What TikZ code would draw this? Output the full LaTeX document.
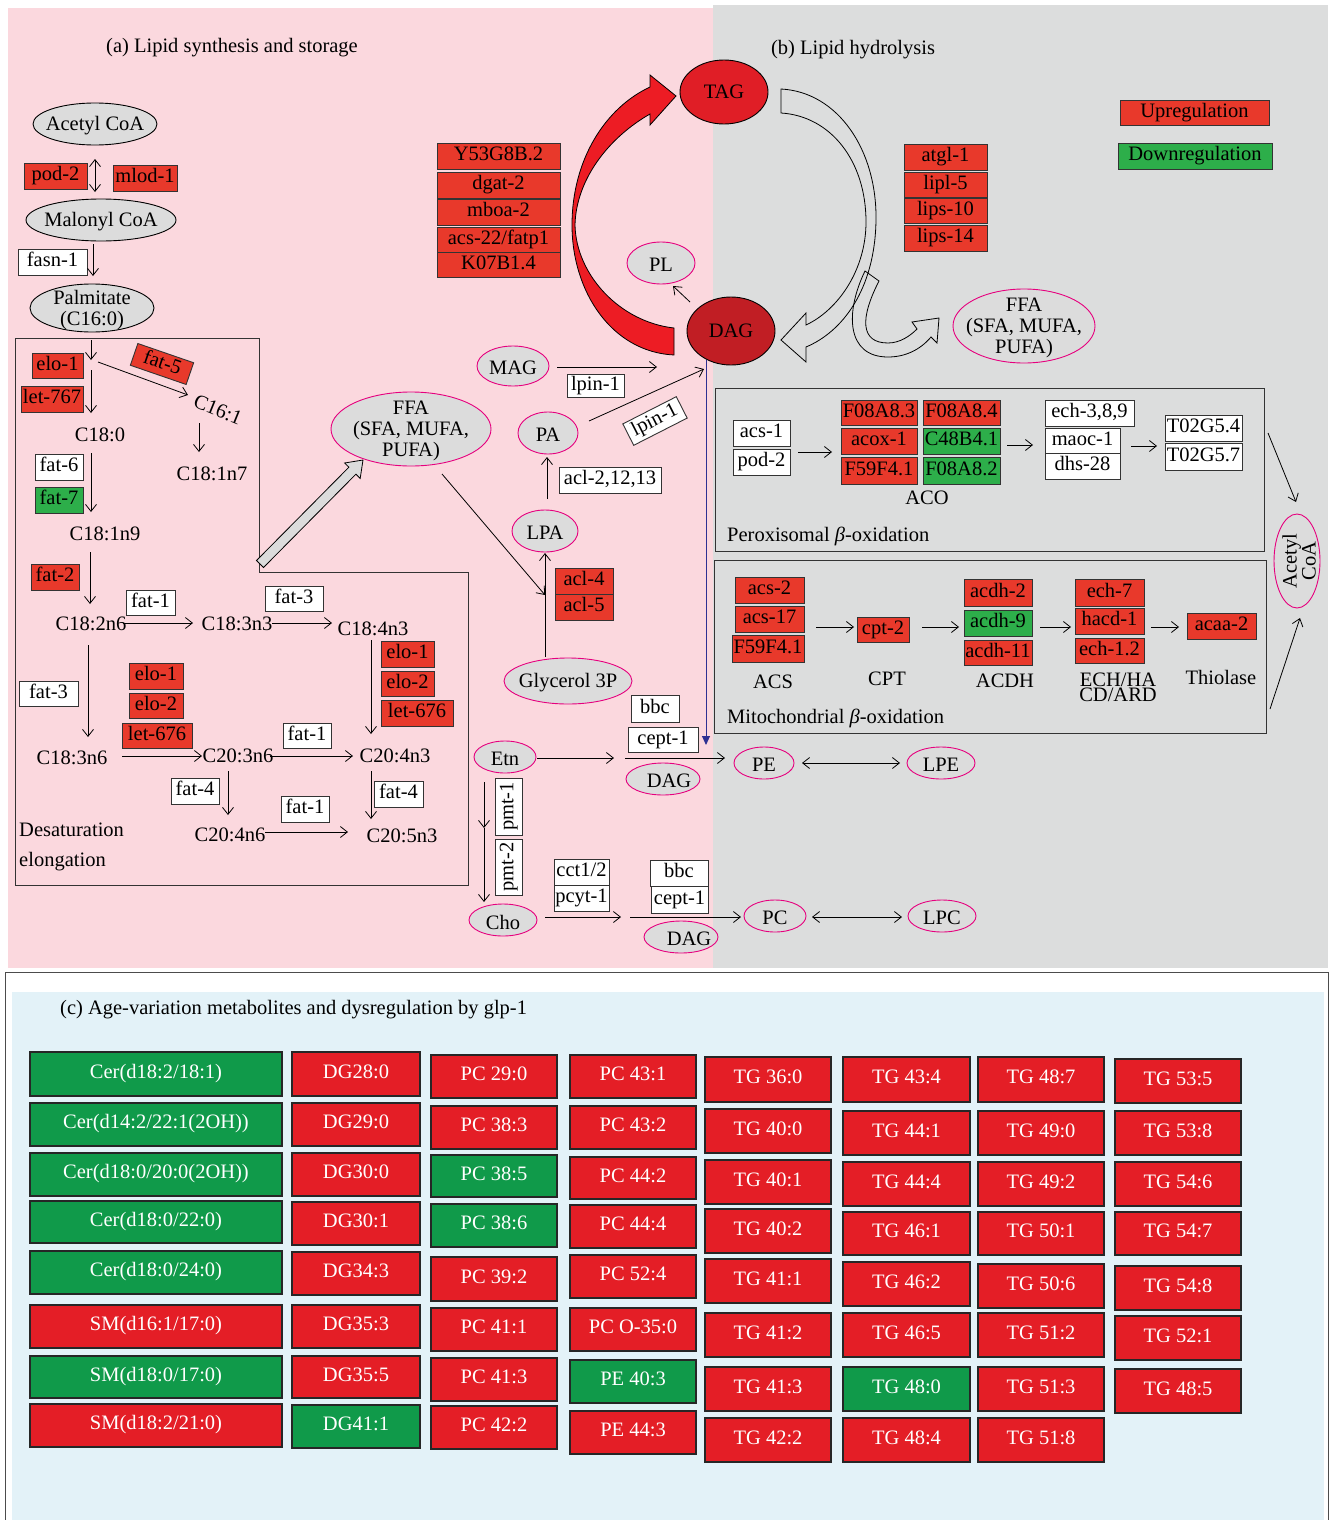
\documentclass[tikz,border=0pt]{standalone}
\usepackage{fontspec}
\setmainfont{Liberation Serif}
\usetikzlibrary{arrows.meta,shapes.geometric}
\definecolor{pinkbg}{RGB}{251,216,222}
\definecolor{graybg}{RGB}{220,221,221}
\definecolor{upred}{RGB}{232,57,43}
\definecolor{dngreen}{RGB}{45,174,74}
\definecolor{ellgray}{RGB}{220,220,220}
\definecolor{mag}{RGB}{230,0,126}
\definecolor{tabred}{RGB}{228,30,38}
\definecolor{tabgreen}{RGB}{16,154,74}
\definecolor{bluebg}{RGB}{227,242,248}
\definecolor{tagred}{RGB}{224,30,38}
\definecolor{dagred}{RGB}{193,30,36}
\definecolor{arrred}{RGB}{237,28,36}
\definecolor{lineblue}{RGB}{46,49,146}
\newcommand\labfont{\fontsize{20.5}{21}\selectfont}
\newcommand\tabfont{\fontsize{20.5}{22}\selectfont}
\newcommand\bx[7]{\node[#6,minimum width={(#4-#2)*1pt},minimum height={(#5-#3)*1pt}] (#1) at ({(#2+#4)/2},{(#3+#5)/2}) {#7};}
\newcommand\el[7]{\node[#6,minimum width={2*#4*1pt},minimum height={2*#5*1pt},label={[elab]center:{#7}}] (#1) at (#2,#3) {};}
\begin{document}
\begin{tikzpicture}[x=1pt,y=-1pt,
 gbox/.style={draw=black!80,line width=0.9pt,inner sep=0pt,outer sep=0pt,font=\labfont,text height=13.5pt,text depth=4pt},
 rbox/.style={gbox,fill=upred},
 wbox/.style={gbox,fill=white},
 gnbox/.style={gbox,fill=dngreen},
 ell/.style={ellipse,draw=black,fill=ellgray,line width=0.9pt,inner sep=0pt,outer sep=0pt},
 mell/.style={ellipse,draw=mag,fill=ellgray,line width=0.9pt,inner sep=0pt,outer sep=0pt},
 elab/.style={font=\labfont,align=center,inner sep=0pt,yshift=-2pt},
 txt/.style={font=\labfont,inner sep=0pt},
 arr/.style={line width=0.8pt,-{Straight Barb[length=7pt,width=11pt]}},
 darr/.style={line width=0.8pt,{Straight Barb[length=7pt,width=11pt]}-{Straight Barb[length=7pt,width=11pt]}},
 tred/.style={draw=black!85,line width=1.3pt,fill=tabred,text=white,font=\tabfont,inner sep=0pt,text height=12pt,text depth=4pt},
 tgrn/.style={tred,fill=tabgreen},
 panelbox/.style={draw=black!80,line width=1pt}]
\useasboundingbox (0,0) rectangle (1329,1520);
% backgrounds
\fill[white] (0,0) rectangle (1329,1520);
\fill[pinkbg] (8,8) rectangle (713,968);
\fill[graybg] (713,5) rectangle (1328,968);
\draw[black!70,line width=1pt,fill=white] (5,972) rectangle (1328,1525);
\fill[bluebg] (12,992) rectangle (1324,1520);
% titles
\node[txt] (ta) at (232,48) {(a) Lipid synthesis and storage};
\node[txt] (tb) at (853,50) {(b) Lipid hydrolysis};
\node[txt,anchor=west] (tc) at (60,1010) {(c) Age-variation metabolites and dysregulation by glp-1};
% legend
\bx{lup}{1120}{100}{1269}{125}{rbox}{Upregulation}
\bx{ldn}{1118}{143}{1272}{169}{gnbox}{Downregulation}
% ---------- left column
\el{acoa}{95}{124}{62}{21}{ell}{Acetyl CoA}
\bx{pod2a}{24}{163}{87}{189}{rbox}{pod-2}
\bx{mlod}{113}{165}{177}{191}{rbox}{mlod-1}
\el{mcoa}{101}{220}{75}{21}{ell}{Malonyl CoA}
\bx{fasn}{18}{249}{87}{275}{wbox}{fasn-1}
\el{palm}{92}{308}{62}{24}{ell}{Palmitate\\(C16:0)}
\draw[darr] ([shift={(0,35)}]acoa.center) -- ([shift={(-6,-28)}]mcoa.center);
\draw[arr] ([shift={(-8,24)}]mcoa.center) -- ([shift={(1,-32)}]palm.center);
% desaturation box
\draw[panelbox] (15,338) -- (259,338) -- (259,572) -- (468,572) -- (468,885) -- (15,885) -- cycle;
\node[txt] (c180) at (100,435) {C18:0};
\node[txt,rotate=-22] (c161) at (218,410) {C16:1};
\node[txt] (c181n7) at (212,474) {C18:1n7};
\node[txt] (c181n9) at (105,534) {C18:1n9};
\node[txt] (c182n6) at (91,624) {C18:2n6};
\node[txt] (c183n3) at (237,624) {C18:3n3};
\node[txt] (c184n3) at (373,629) {C18:4n3};
\node[txt] (c183n6) at (72,758) {C18:3n6};
\node[txt] (c203n6) at (238,756) {C20:3n6};
\node[txt] (c204n3) at (395,756) {C20:4n3};
\node[txt] (c204n6) at (230,835) {C20:4n6};
\node[txt] (c205n3) at (402,836) {C20:5n3};
\node[txt,anchor=west] (desat) at (19,830) {Desaturation};
\node[txt,anchor=west] (elong) at (19,862) {elongation};
\bx{elo1a}{32}{353}{83}{378}{rbox}{elo-1}
\bx{let767}{21}{386}{83}{412}{rbox}{let-767}
\node[rbox,rotate=-19,minimum width=59pt,minimum height=23pt] (fat5) at (162,364) {fat-5};
\bx{fat6}{35}{454}{83}{480}{wbox}{fat-6}
\bx{fat7}{35}{487}{83}{513}{gnbox}{fat-7}
\bx{fat2}{31}{564}{79}{590}{rbox}{fat-2}
\bx{fat1a}{126}{590}{175}{615}{wbox}{fat-1}
\bx{fat3a}{265}{586}{323}{611}{wbox}{fat-3}
\bx{elo1b}{381}{641}{434}{667}{rbox}{elo-1}
\bx{elo2b}{381}{671}{434}{696}{rbox}{elo-2}
\bx{let676b}{381}{700}{453}{726}{rbox}{let-676}
\bx{fat3b}{19}{681}{78}{706}{wbox}{fat-3}
\bx{elo1c}{129}{663}{183}{689}{rbox}{elo-1}
\bx{elo2c}{129}{693}{183}{718}{rbox}{elo-2}
\bx{let676c}{122}{723}{192}{748}{rbox}{let-676}
\bx{fat1b}{283}{723}{331}{748}{wbox}{fat-1}
\bx{fat4a}{171}{778}{219}{804}{wbox}{fat-4}
\bx{fat1c}{281}{796}{329}{822}{wbox}{fat-1}
\bx{fat4b}{374}{781}{423}{807}{wbox}{fat-4}
\draw[arr] ([shift={(-1,32)}]palm.center) -- ([shift={(-1,52)}]palm.center);
\draw[arr] ([shift={(-9,-65)}]c180.center) -- ([shift={(-9,-22)}]c180.center);
\draw[arr] ([shift={(6,54)}]palm.center) -- ([shift={(-30,-15)}]c161.center);
\draw[arr] ([shift={(-19,13)}]c161.center) -- ([shift={(-13,-22)}]c181n7.center);
\draw[arr] ([shift={(-9,18)}]c180.center) -- ([shift={(-14,-22)}]c181n9.center);
\draw[arr] ([shift={(-15,18)}]c181n9.center) -- ([shift={(-1,-20)}]c182n6.center);
\draw[arr] ([shift={(32,-1)}]c182n6.center) -- ([shift={(-44,-1)}]c183n3.center);
\draw[arr] ([shift={(35,-1)}]c183n3.center) -- ([shift={(-41,-6)}]c184n3.center);
\draw[arr] ([shift={(-2,11)}]c184n3.center) -- ([shift={(-24,-22)}]c204n3.center);
\draw[arr] ([shift={(-3,21)}]c182n6.center) -- ([shift={(16,-21)}]c183n6.center);
\draw[arr] ([shift={(50,-2)}]c183n6.center) -- ([shift={(-36,0)}]c203n6.center);
\draw[arr] ([shift={(32,0)}]c203n6.center) -- ([shift={(-42,0)}]c204n3.center);
\draw[arr] ([shift={(-10,15)}]c203n6.center) -- ([shift={(-2,-20)}]c204n6.center);
\draw[arr] ([shift={(35,-3)}]c204n6.center) -- ([shift={(-54,-4)}]c205n3.center);
\draw[arr] ([shift={(-24,15)}]c204n3.center) -- ([shift={(-31,-17)}]c205n3.center);
% gray hollow arrow to FFA
\draw[line width=0.8pt,fill=ellgray] (256.5,560.5) -- (348.9,467.2) -- (344.6,463) -- (363,460) -- (360.2,478.4) -- (355.9,474.2) -- (263.5,567.5) -- cycle;
% ---------- middle
\el{ffa1}{411}{429}{80}{37}{mell}{FFA\\(SFA, MUFA,\\PUFA)}
\bx{y53}{437}{143}{560}{169}{rbox}{Y53G8B.2}
\bx{dgat}{437}{172}{560}{198}{rbox}{dgat-2}
\bx{mboa}{437}{199}{560}{225}{rbox}{mboa-2}
\bx{acs22}{437}{227}{560}{252}{rbox}{acs-22/fatp1}
\bx{k07}{437}{252}{560}{277}{rbox}{K07B1.4}
% red curved arrow DAG -> TAG
\draw[line width=0.8pt,fill=arrred] (674,355) .. controls (612,352) and (572,292) .. (572,225) .. controls (572,160) and (605,108) .. (650,87) -- (650,75) -- (676,96) -- (650,125) -- (650,114) .. controls (608,138) and (576,180) .. (575,225) .. controls (576,275) and (620,322) .. (674,328) -- cycle;
% hollow arrow TAG -> DAG
\draw[line width=0.8pt,fill=graybg] (781,89) .. controls (838,92) and (877,150) .. (876,220) .. controls (875,290) and (842,332) .. (806,347) -- (806,362) -- (781,340) -- (806,313) -- (806,325) .. controls (838,310) and (866,270) .. (866,222) .. controls (866,160) and (830,116) .. (781,113) -- cycle;
\draw[line width=0.8pt] (865,271) -- (879,281) .. controls (860,318) and (860,343) .. (888,343) .. controls (900,343) and (910,336) .. (917,329) -- (912,322) -- (939,318) -- (937,343) -- (931,337) .. controls (920,350) and (905,357) .. (888,357) .. controls (846,357) and (845,312) .. (865,271) -- cycle;
\node[ellipse,draw=black,line width=0.9pt,fill=tagred,minimum width=88pt,minimum height=64pt,inner sep=0pt,font=\labfont] (tag) at (724,92) {TAG};
\node[ellipse,draw=black,line width=0.9pt,fill=dagred,minimum width=88pt,minimum height=68pt,inner sep=0pt,font=\labfont] (dag) at (731,331) {DAG};
\el{pl}{661}{263}{34}{21}{mell}{PL}
\draw[arr] ([shift={(-41,-29)}]dag.center) -- ([shift={(12,23)}]pl.center);
\el{mag}{513}{366}{36}{20}{mell}{MAG}
\draw[arr] ([shift={(44,1)}]mag.center) -- ([shift={(-74,36)}]dag.center);
\bx{lpin1a}{567}{374}{624}{397}{wbox}{lpin-1}
\el{pa}{548}{433}{30}{21}{mell}{PA}
\draw[arr] ([shift={(41,-12)}]pa.center) -- ([shift={(-27,38)}]dag.center);
\node[wbox,rotate=27,minimum width=60pt,minimum height=24pt] (lpin1b) at (655,421) {lpin-1};
\bx{acl2}{559}{467}{661}{493}{wbox}{acl-2,12,13}
\el{lpa}{545}{531}{33}{21}{mell}{LPA}
\draw[arr] ([shift={(2,-32)}]lpa.center) -- ([shift={(-1,24)}]pa.center);
\bx{acl4}{555}{568}{613}{594}{rbox}{acl-4}
\bx{acl5}{555}{594}{613}{620}{rbox}{acl-5}
\el{gly}{568}{681}{64}{23}{mell}{Glycerol 3P}
\draw[arr] ([shift={(-23,-24)}]gly.center) -- ([shift={(0,22)}]lpa.center);
\draw[arr] ([shift={(31,45)}]ffa1.center) -- ([shift={(-23,-86)}]gly.center);
% ---------- bottom PE / PC
\el{etn}{505}{757}{31}{16}{mell}{Etn}
\bx{bbc1}{631}{695}{679}{722}{wbox}{bbc}
\bx{cept1a}{628}{727}{698}{752}{wbox}{cept-1}
\node[mell,minimum width=74pt,minimum height=32pt,label={[elab,xshift=6pt]center:DAG}] (dag2) at (663,779) {};
\el{pe}{764}{763}{30}{16}{mell}{PE}
\el{lpe}{941}{763}{34}{16}{mell}{LPE}
\draw[arr] ([shift={(32,1)}]etn.center) -- ([shift={(-49,18.5)}]cept1a.center);
\draw[arr] ([shift={(-38,18.5)}]cept1a.center) -- ([shift={(-39,-5)}]pe.center);
\draw[darr] ([shift={(38,0)}]pe.center) -- ([shift={(-41,0)}]lpe.center);
\node[wbox,rotate=90,minimum width=57pt,minimum height=27pt] (pmt1) at (508.5,806.5) {pmt-1};
\node[wbox,rotate=90,minimum width=56pt,minimum height=27pt] (pmt2) at (508.5,867) {pmt-2};
\el{cho}{503}{920}{34}{16}{mell}{Cho}
\draw[arr] ([shift={(-21,25)}]etn.center) -- ([shift={(-24.5,21.5)}]pmt1.center);
\draw[arr] ([shift={(-24.5,21.5)}]pmt1.center) -- ([shift={(-19,-18)}]cho.center);
\bx{cct}{554}{859}{609}{885}{wbox}{cct1/2}
\bx{pcyt}{554}{885}{609}{911}{wbox}{pcyt-1}
\bx{bbc2}{650}{860}{708}{886}{wbox}{bbc}
\bx{cept1b}{651}{886}{708}{913}{wbox}{cept-1}
\node[mell,minimum width=74pt,minimum height=32pt,label={[elab,xshift=8pt]center:DAG}] (dag3) at (681,937) {};
\el{pc}{775}{916}{31}{16}{mell}{PC}
\el{lpc}{942}{916}{34}{16}{mell}{LPC}
\draw[arr] ([shift={(42,-3)}]cho.center) -- ([shift={(39.5,19)}]pcyt.center);
\draw[arr] ([shift={(48.5,19)}]pcyt.center) -- ([shift={(-34,1)}]pc.center);
\draw[darr] ([shift={(37,1)}]pc.center) -- ([shift={(-40,1)}]lpc.center);
% blue line
\draw[lineblue,line width=1pt,-{Triangle[length=9pt,width=8pt]}] ([shift={(-25,29)}]dag.center) -- ([shift={(-58,-18)}]pe.center);
% ---------- panel b
\bx{atgl}{904}{144}{987}{170}{rbox}{atgl-1}
\bx{lipl}{904}{172}{987}{197}{rbox}{lipl-5}
\bx{lips10}{904}{198}{987}{223}{rbox}{lips-10}
\bx{lips14}{904}{225}{987}{251}{rbox}{lips-14}
\el{ffa2}{1024}{326}{71}{37}{mell}{FFA\\(SFA, MUFA,\\PUFA)}
% peroxisomal
\draw[panelbox] (715,388) rectangle (1264,551);
\bx{acs1}{733}{420}{790}{446}{wbox}{acs-1}
\bx{pod2b}{733}{449}{790}{475}{wbox}{pod-2}
\bx{f083}{841}{400}{917}{425}{rbox}{F08A8.3}
\bx{f084}{923}{400}{1000}{425}{rbox}{F08A8.4}
\bx{acox}{841}{428}{917}{454}{rbox}{acox-1}
\bx{c48}{923}{428}{1000}{454}{gnbox}{C48B4.1}
\bx{f59a}{841}{457}{917}{484}{rbox}{F59F4.1}
\bx{f082}{923}{457}{1000}{484}{gnbox}{F08A8.2}
\node[txt] (aco) at (927,498) {ACO};
\bx{ech389}{1045}{400}{1134}{426}{wbox}{ech-3,8,9}
\bx{maoc}{1045}{428}{1120}{453}{wbox}{maoc-1}
\bx{dhs}{1045}{453}{1120}{479}{wbox}{dhs-28}
\bx{t02a}{1165}{415}{1242}{441}{wbox}{T02G5.4}
\bx{t02b}{1165}{443}{1242}{470}{wbox}{T02G5.7}
\node[txt,anchor=west] (perox) at (727,536) {Peroxisomal \textit{β}-oxidation};
\draw[arr] ([shift={(36.5,-10)}]pod2b.center) -- ([shift={(-47,11)}]acox.center);
\draw[arr] ([shift={(45.5,4)}]c48.center) -- ([shift={(-49.5,4.5)}]maoc.center);
\draw[arr] ([shift={(48.5,5.5)}]maoc.center) -- ([shift={(-46.5,18)}]t02a.center);
% mitochondrial
\draw[panelbox] (714,560) rectangle (1266,733);
\bx{acs2}{735}{577}{804}{603}{rbox}{acs-2}
\bx{acs17}{735}{606}{804}{632}{rbox}{acs-17}
\bx{f59b}{732}{635}{804}{662}{rbox}{F59F4.1}
\node[txt] (acs) at (773,682) {ACS};
\bx{cpt2}{857}{617}{909}{642}{rbox}{cpt-2}
\node[txt] (cpt) at (887,679) {CPT};
\bx{acdh2}{964}{579}{1032}{606}{rbox}{acdh-2}
\bx{acdh9}{964}{610}{1032}{636}{gnbox}{acdh-9}
\bx{acdh11}{964}{640}{1032}{665}{rbox}{acdh-11}
\node[txt] (acdh) at (1005,681) {ACDH};
\bx{ech7}{1075}{579}{1144}{606}{rbox}{ech-7}
\bx{hacd}{1075}{608}{1144}{634}{rbox}{hacd-1}
\bx{ech12}{1075}{638}{1144}{663}{rbox}{ech-1.2}
\node[txt,align=center,font=\fontsize{20.5}{15}\selectfont] (echha) at (1118,687) {ECH/HA\\CD/ARD};
\bx{acaa}{1187}{613}{1256}{639}{rbox}{acaa-2}
\node[txt] (thio) at (1221,677) {Thiolase};
\node[txt,anchor=west] (mito) at (727,718) {Mitochondrial \textit{β}-oxidation};
\draw[arr] ([shift={(46.5,8)}]acs17.center) -- ([shift={(-29,-2.5)}]cpt2.center);
\draw[arr] ([shift={(39,-2.5)}]cpt2.center) -- ([shift={(-39,4)}]acdh9.center);
\draw[arr] ([shift={(42,4)}]acdh9.center) -- ([shift={(-38.5,6)}]hacd.center);
\draw[arr] ([shift={(41.5,6)}]hacd.center) -- ([shift={(-42.5,1)}]acaa.center);
% acetyl CoA right
\node[mell,minimum width=46pt,minimum height=94pt,label={[elab,yshift=2pt,xshift=2pt,rotate=90,font=\fontsize{20.5}{15}\selectfont]center:{Acetyl\\CoA}}] (acor) at (1297,561) {};
\draw[arr] ([shift={(-29,-128)}]acor.center) -- ([shift={(-1,-59)}]acor.center);
\draw[arr] ([shift={(-27,148)}]acor.center) -- ([shift={(3,57)}]acor.center);
% ---------- panel c table
\bx{t11}{30}{1052}{282}{1096}{tgrn}{Cer(d18:2/18:1)}
\bx{t12}{30}{1103}{282}{1146}{tgrn}{Cer(d14:2/22:1(2OH))}
\bx{t13}{30}{1153}{282}{1196}{tgrn}{Cer(d18:0/20:0(2OH))}
\bx{t14}{30}{1201}{282}{1243}{tgrn}{Cer(d18:0/22:0)}
\bx{t15}{30}{1251}{282}{1294}{tgrn}{Cer(d18:0/24:0)}
\bx{t16}{30}{1305}{282}{1348}{tred}{SM(d16:1/17:0)}
\bx{t17}{30}{1356}{282}{1398}{tgrn}{SM(d18:0/17:0)}
\bx{t18}{30}{1404}{282}{1447}{tred}{SM(d18:2/21:0)}
\bx{t21}{292}{1052}{420}{1096}{tred}{DG28:0}
\bx{t22}{292}{1103}{420}{1146}{tred}{DG29:0}
\bx{t23}{292}{1153}{420}{1196}{tred}{DG30:0}
\bx{t24}{292}{1202}{420}{1245}{tred}{DG30:1}
\bx{t25}{292}{1252}{420}{1295}{tred}{DG34:3}
\bx{t26}{292}{1305}{420}{1348}{tred}{DG35:3}
\bx{t27}{292}{1356}{420}{1398}{tred}{DG35:5}
\bx{t28}{292}{1405}{420}{1448}{tgrn}{DG41:1}
\bx{t31}{431}{1055}{557}{1098}{tred}{PC 29:0}
\bx{t32}{431}{1106}{557}{1149}{tred}{PC 38:3}
\bx{t33}{431}{1155}{557}{1197}{tgrn}{PC 38:5}
\bx{t34}{431}{1204}{557}{1247}{tgrn}{PC 38:6}
\bx{t35}{431}{1257}{557}{1301}{tred}{PC 39:2}
\bx{t36}{431}{1308}{557}{1351}{tred}{PC 41:1}
\bx{t37}{431}{1358}{557}{1401}{tred}{PC 41:3}
\bx{t38}{431}{1406}{557}{1449}{tred}{PC 42:2}
\bx{t41}{570}{1055}{696}{1098}{tred}{PC 43:1}
\bx{t42}{570}{1106}{696}{1149}{tred}{PC 43:2}
\bx{t43}{570}{1157}{696}{1199}{tred}{PC 44:2}
\bx{t44}{570}{1205}{696}{1248}{tred}{PC 44:4}
\bx{t45}{570}{1255}{696}{1298}{tred}{PC 52:4}
\bx{t46}{570}{1308}{696}{1351}{tred}{PC O-35:0}
\bx{t47}{570}{1360}{696}{1403}{tgrn}{PE 40:3}
\bx{t48}{570}{1411}{696}{1454}{tred}{PE 44:3}
\bx{t51}{705}{1057}{831}{1102}{tred}{TG 36:0}
\bx{t52}{705}{1109}{831}{1153}{tred}{TG 40:0}
\bx{t53}{705}{1160}{831}{1204}{tred}{TG 40:1}
\bx{t54}{705}{1209}{831}{1253}{tred}{TG 40:2}
\bx{t55}{705}{1259}{831}{1303}{tred}{TG 41:1}
\bx{t56}{705}{1313}{831}{1357}{tred}{TG 41:2}
\bx{t57}{705}{1367}{831}{1411}{tred}{TG 41:3}
\bx{t58}{705}{1418}{831}{1462}{tred}{TG 42:2}
\bx{t61}{843}{1057}{970}{1102}{tred}{TG 43:4}
\bx{t62}{843}{1111}{970}{1155}{tred}{TG 44:1}
\bx{t63}{843}{1162}{970}{1206}{tred}{TG 44:4}
\bx{t64}{843}{1212}{970}{1255}{tred}{TG 46:1}
\bx{t65}{843}{1262}{970}{1306}{tred}{TG 46:2}
\bx{t66}{843}{1313}{970}{1357}{tred}{TG 46:5}
\bx{t67}{843}{1367}{970}{1411}{tgrn}{TG 48:0}
\bx{t68}{843}{1418}{970}{1462}{tred}{TG 48:4}
\bx{t71}{978}{1057}{1104}{1102}{tred}{TG 48:7}
\bx{t72}{978}{1111}{1104}{1155}{tred}{TG 49:0}
\bx{t73}{978}{1162}{1104}{1206}{tred}{TG 49:2}
\bx{t74}{978}{1212}{1104}{1255}{tred}{TG 50:1}
\bx{t75}{978}{1264}{1104}{1308}{tred}{TG 50:6}
\bx{t76}{978}{1313}{1104}{1357}{tred}{TG 51:2}
\bx{t77}{978}{1367}{1104}{1411}{tred}{TG 51:3}
\bx{t78}{978}{1418}{1104}{1462}{tred}{TG 51:8}
\bx{t81}{1115}{1059}{1241}{1103}{tred}{TG 53:5}
\bx{t82}{1115}{1111}{1241}{1155}{tred}{TG 53:8}
\bx{t83}{1115}{1162}{1241}{1206}{tred}{TG 54:6}
\bx{t84}{1115}{1212}{1241}{1255}{tred}{TG 54:7}
\bx{t85}{1115}{1266}{1241}{1310}{tred}{TG 54:8}
\bx{t86}{1115}{1316}{1241}{1360}{tred}{TG 52:1}
\bx{t87}{1115}{1369}{1241}{1413}{tred}{TG 48:5}
\end{tikzpicture}
\end{document}
